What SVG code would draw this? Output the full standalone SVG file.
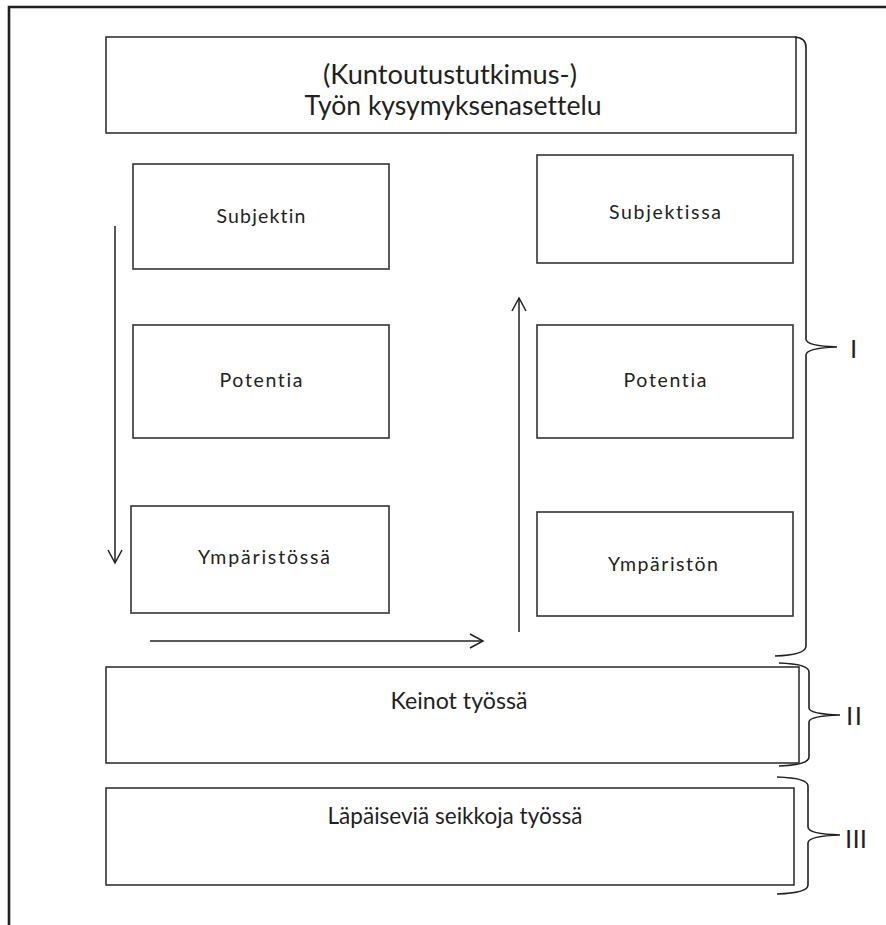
<svg xmlns="http://www.w3.org/2000/svg" width="886" height="925" viewBox="0 0 886 925">
<style>
.box{fill:#fff;stroke:#333;stroke-width:1.6}
.brace{fill:none;stroke:#231f20;stroke-width:1.6}
.arr{fill:none;stroke:#231f20;stroke-width:1.5}
.t{font-family:Lato,"Open Sans","Liberation Sans",sans-serif;fill:#231f20;text-anchor:middle;font-variant-ligatures:none}
.big{font-size:27px}
.sm{font-size:19.5px}
.mid{font-size:23px}
.num{font-family:"Liberation Sans",sans-serif;font-size:26px;fill:#231f20}
</style>
<defs>
<marker id="ah" viewBox="-14 -8 16 16" refX="0" refY="0" markerWidth="16" markerHeight="16" markerUnits="userSpaceOnUse" orient="auto">
<path d="M-13,-7 L0,0 L-13,7" fill="none" stroke="#231f20" stroke-width="1.5"/>
</marker>
</defs>
<rect width="886" height="925" fill="#fff"/>
<g id="frame">
<path d="M9,925 L9,7 L886,7" fill="none" stroke="#231f20" stroke-width="2.6"/>
</g>
<g id="title">
<rect class="box" x="106" y="37" width="690" height="96"/>
<text class="t big" x="450" y="84" textLength="254" lengthAdjust="spacingAndGlyphs">(Kuntoutustutkimus-)</text>
<text class="t big" x="453" y="115" textLength="297" lengthAdjust="spacingAndGlyphs">Työn kysymyksenasettelu</text>
</g>
<g id="subjektin">
<rect class="box" x="133" y="164" width="256" height="105"/>
<text class="t sm" x="261" y="223" textLength="89" lengthAdjust="spacing">Subjektin</text>
</g>
<g id="potentia-left">
<rect class="box" x="133" y="325" width="256" height="113"/>
<text class="t sm" x="261" y="387" textLength="83" lengthAdjust="spacing">Potentia</text>
</g>
<g id="ymparistossa">
<rect class="box" x="131" y="506" width="258" height="107"/>
<text class="t sm" x="264" y="564" textLength="132" lengthAdjust="spacing">Ympäristössä</text>
</g>
<g id="subjektissa">
<rect class="box" x="537" y="155" width="256" height="108"/>
<text class="t sm" x="665" y="219" textLength="112" lengthAdjust="spacing">Subjektissa</text>
</g>
<g id="potentia-right">
<rect class="box" x="537" y="325" width="256" height="113"/>
<text class="t sm" x="665" y="387" textLength="83" lengthAdjust="spacing">Potentia</text>
</g>
<g id="ympariston">
<rect class="box" x="537" y="512" width="256" height="104"/>
<text class="t sm" x="663" y="571" textLength="110" lengthAdjust="spacing">Ympäristön</text>
</g>
<g id="keinot">
<rect class="box" x="106" y="667" width="693" height="96"/>
<text class="t mid" x="459" y="709" textLength="137" lengthAdjust="spacingAndGlyphs">Keinot työssä</text>
</g>
<g id="lapaisevia">
<rect class="box" x="106" y="788" width="688" height="97"/>
<text class="t mid" x="455" y="824" textLength="255" lengthAdjust="spacingAndGlyphs">Läpäiseviä seikkoja työssä</text>
</g>
<g id="connectors">
<line class="arr" x1="115" y1="226" x2="115" y2="563" marker-end="url(#ah)"/>
<line class="arr" x1="150" y1="641" x2="483" y2="641" marker-end="url(#ah)"/>
<line class="arr" x1="519" y1="632" x2="519" y2="298" marker-end="url(#ah)"/>
</g>
<g id="brace-I">
<path class="brace" d="M795,37 Q806,38 806,47 L806,339 Q806,346 837,347 Q806,348 806,355 L806,646 Q806,655 775,656"/>
<text class="num" x="850" y="358">I</text>
</g>
<g id="brace-II">
<path class="brace" d="M779,663 Q809,664 809,672 L809,708 Q809,714 840,715 Q809,716 809,722 L809,757 Q809,765 779,766"/>
<text class="num" x="846" y="725" textLength="16" lengthAdjust="spacing">II</text>
</g>
<g id="brace-III">
<path class="brace" d="M777,777 Q808,778 808,786 L808,827 Q808,834 840,835 Q808,836 808,843 L808,885 Q808,893 777,894"/>
<text class="num" x="845" y="848" textLength="22" lengthAdjust="spacing">III</text>
</g>
</svg>
